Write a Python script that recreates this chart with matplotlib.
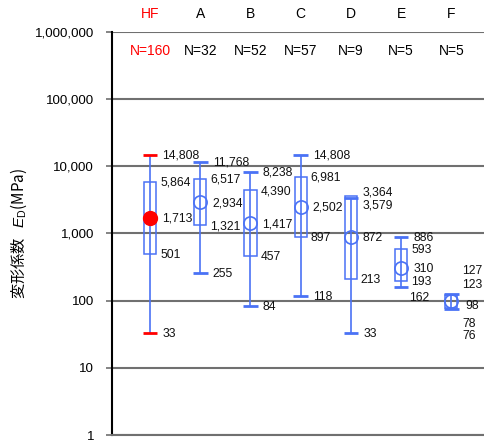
import matplotlib
matplotlib.use("Agg")
import matplotlib.pyplot as plt
from matplotlib.patches import Rectangle
from matplotlib.ticker import FixedLocator, FuncFormatter
from matplotlib.transforms import blended_transform_factory

plt.rcParams['font.family'] = ['Liberation Sans', 'DejaVu Sans']
plt.rcParams['mathtext.fontset'] = 'custom'
plt.rcParams['mathtext.rm'] = 'Liberation Sans'
plt.rcParams['mathtext.it'] = 'Liberation Sans:italic'

# summary statistics per rock class
categories = ['HF', 'A', 'B', 'C', 'D', 'E', 'F']
counts = [160, 32, 52, 57, 9, 5, 5]
max_vals = [14808, 11768, 8238, 14808, 3364, 886, 127]
q3_vals = [5864, 6517, 4390, 6981, 3579, 593, 123]
median_vals = [1713, 2934, 1417, 2502, 872, 310, 98]
q1_vals = [501, 1321, 457, 897, 213, 193, 78]
min_vals = [33, 255, 84, 118, 33, 162, 76]

BLUE = '#4a72f5'
RED = '#ff0000'
GRID = '#707070'

# label nudges (pixels, y up) where labels would collide
nudges = {
    (4, 'max'): (12, 7), (4, 'q3'): (12, -8),
    (5, 'min'): (8, -10),
    (6, 'max'): (11, 24), (6, 'q3'): (11, 11), (6, 'med'): (14, -4),
    (6, 'q1'): (11, -15), (6, 'min'): (11, -26),
}
default_dx = {'max': 12.5, 'q3': 10, 'med': 12, 'q1': 10, 'min': 12.5}

fig = plt.figure(figsize=(4.85, 4.43), dpi=100)
ax = fig.add_axes([0.231, 0.018, 0.769, 0.910])
ax.set_yscale('log')
ax.set_ylim(1, 1e6)
ax.set_xlim(-0.757, 6.67)

box_w = 0.24
cap_w = 0.29
for i, cat in enumerate(categories):
    cap_color = RED if cat == 'HF' else BLUE
    ax.vlines(i, min_vals[i], max_vals[i], color=BLUE, lw=1.2, zorder=3)
    ax.add_patch(Rectangle((i - box_w / 2, q1_vals[i]), box_w, q3_vals[i] - q1_vals[i],
                           fill=False, ec=BLUE, lw=1.1, zorder=3))
    ax.hlines([min_vals[i], max_vals[i]], i - cap_w / 2, i + cap_w / 2,
              color=cap_color, lw=2, zorder=4)
    if cat == 'HF':
        ax.plot(i, median_vals[i], 'o', color=RED, ms=10, zorder=5)
    else:
        ax.plot(i, median_vals[i], 'o', mfc='none', mec=BLUE, mew=1.2, ms=9.5, zorder=5)

    stats = {'max': max_vals[i], 'q3': q3_vals[i], 'med': median_vals[i],
             'q1': q1_vals[i], 'min': min_vals[i]}
    for key, val in stats.items():
        dx, dy = nudges.get((i, key), (default_dx[key], 0))
        ax.annotate(f'{val:,}', (i, val), xytext=(dx, dy - 1), textcoords='offset pixels',
                    ha='left', va='center', fontsize=8.7, color='#111111', zorder=6)

# class names above the plot and sample counts inside
trans = blended_transform_factory(ax.transData, ax.transAxes)
for i, cat in enumerate(categories):
    c = RED if cat == 'HF' else 'black'
    ax.text(i, 1.045, cat, transform=trans, ha='center', va='center', fontsize=10, color=c)
    ax.text(i, 0.953, f'N={counts[i]}', transform=trans, ha='center', va='center',
            fontsize=10, color=c)

ax.yaxis.set_major_locator(FixedLocator([10 ** k for k in range(7)]))
ax.yaxis.set_minor_locator(FixedLocator([]))
ax.yaxis.set_major_formatter(FuncFormatter(lambda v, p: f'{v:,.0f}'))
ax.tick_params(axis='y', length=4, width=1.2, color=GRID, pad=9, labelsize=9.6)
ax.set_xticks([])
ax.grid(axis='y', color=GRID, lw=1.5, zorder=1)
ax.set_axisbelow(True)

for side in ['top', 'right']:
    ax.spines[side].set_visible(False)
ax.spines['bottom'].set_color(GRID)
ax.spines['bottom'].set_linewidth(1.5)
ax.spines['left'].set_linewidth(1.5)
ax.spines['left'].set_zorder(2)

ax.set_ylabel('変形係数   $E_{\\mathrm{D}}$(MPa)', family=['Noto Sans CJK JP', 'DejaVu Sans'],
              fontsize=11, labelpad=4)

fig.savefig('out.png', dpi=100)
